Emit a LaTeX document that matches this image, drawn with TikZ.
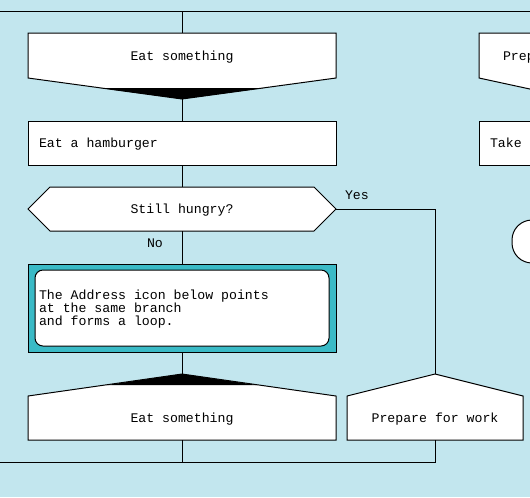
\documentclass[tikz,border=0pt]{standalone}
\usepackage{fontspec}
\newfontfamily\pxmono{Liberation Mono}
\definecolor{bg}{RGB}{194,230,238}
\definecolor{tealbox}{RGB}{58,186,198}
\begin{document}
\begin{tikzpicture}[x=0.75pt,y=-0.75pt,line width=0.75pt,
  area/.style={inner sep=0pt,outer sep=0pt},
  shp/.style={draw=black,fill=white},
  txt/.style={font=\pxmono\fontsize{9.9}{9.75}\selectfont,inner sep=0pt,outer sep=0pt},
]
\clip (0,0) rectangle (530,497);
\fill[bg] (0,0) rectangle (530,497);

% ---- shape nodes (extents) ----
\node[area,minimum width=231pt,minimum height=49.5pt] (e1) at (182,66) {};
\node[area,minimum width=231pt,minimum height=33pt] (hb) at (182,143) {};
\node[area,minimum width=231pt,minimum height=33pt] (dec) at (182,209) {};
\node[area,minimum width=231pt,minimum height=66pt,draw=black,fill=tealbox] (note) at (182,308) {};
\node[area,minimum width=231pt,minimum height=49.5pt] (e2) at (182,407) {};
\node[area,minimum width=132pt,minimum height=49.5pt] (pw) at (435,407) {};
\node[area,minimum width=145.5pt,minimum height=49.5pt] (prep) at (576,66) {};
\node[area,minimum width=145.5pt,minimum height=33pt] (take) at (576,143) {};
\node[area,minimum width=66pt,minimum height=32.25pt] (term) at (556,241.5) {};

% ---- outlines ----
\draw[shp] (28,33) -- (336,33) -- (336,78) -- (182,99) -- (28,78) -- cycle;
\fill[black] (100,88) -- (264,88) -- (182,99) -- cycle;
\draw[shp] (hb.north west) rectangle (hb.south east);
\draw[shp] (28,209) -- (50,187) -- (314,187) -- (336,209) -- (314,231) -- (50,231) -- cycle;
\draw[shp,rounded corners=6pt] (35,270) rectangle (329,346);
\draw[shp] (28,440) -- (28,396) -- (182,374) -- (336,396) -- (336,440) -- cycle;
\fill[black] (107,385) -- (257,385) -- (182,374) -- cycle;
\draw[shp] (347,440) -- (347,396) -- (435,374) -- (523,396) -- (523,440) -- cycle;
\draw[shp] (479,33) -- (673,33) -- (673,78) -- (576,99) -- (479,78) -- cycle;
\draw[shp] (take.north west) rectangle (take.south east);
\draw[shp,rounded corners=15pt] (term.north west) rectangle (term.south east);

% ---- texts ----
\node[txt,anchor=base] (e1t) at (182,60) {Eat something};
\node[txt,anchor=base west] (hbt) at (39,147.5) {Eat a hamburger};
\node[txt,anchor=base] (dect) at (182,213) {Still hungry?};
\node[txt,anchor=base west] (yes) at (345,199) {Yes};
\node[txt,anchor=base west] (no) at (147,247.5) {No};
\node[txt,anchor=west,align=left] (notet) at (39,308.7) {The Address icon below points\\at the same branch\\and forms a loop.};
\node[txt,anchor=base] (e2t) at (182,422.5) {Eat something};
\node[txt,anchor=base] (pwt) at (435,422.5) {Prepare for work};
\node[txt,anchor=base west] (prept) at (503,60) {Prep};
\node[txt,anchor=base west] (taket) at (490,147) {Take};

% ---- connectors ----
\coordinate (tl) at (0,11);
\coordinate (tr) at (530,11);
\coordinate (bl) at (0,462);
\draw (tl) -- (tr);
\draw (e1.north |- tl) -- (e1.north);
\draw (e1.south) -- (hb.north);
\draw (hb.south) -- (dec.north);
\draw (dec.south) -- (note.north);
\draw (note.south) -- (e2.north);
\draw (dec.east) -- (pw.north |- dec.east) -- (pw.north);
\draw (bl) -- (pw.south |- bl) -- (pw.south);
\draw (e2.south) -- (e2.south |- bl);
\end{tikzpicture}
\end{document}
